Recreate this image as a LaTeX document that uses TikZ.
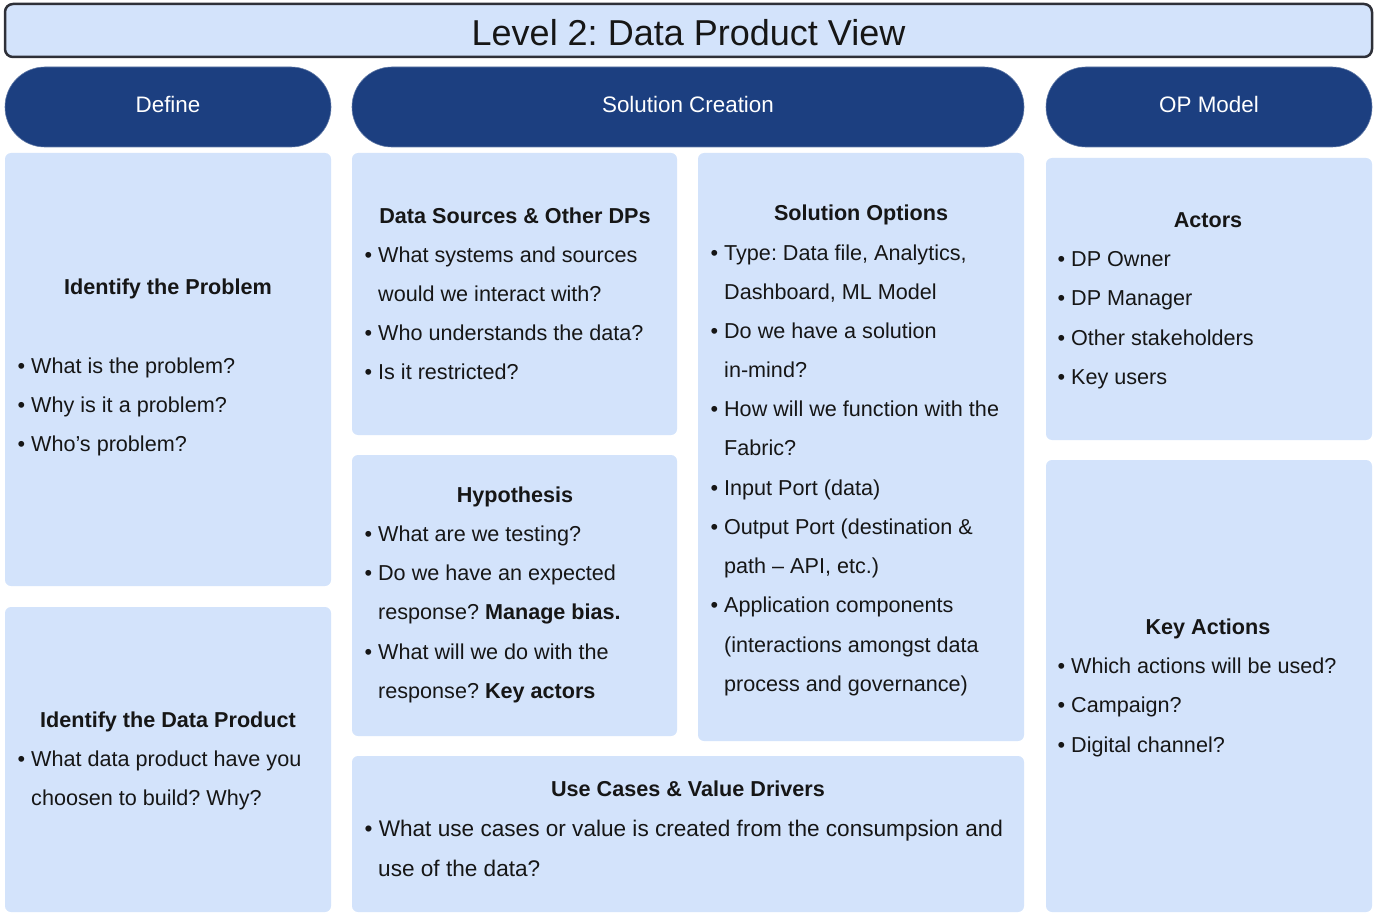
\documentclass[tikz,border=0pt]{standalone}
\usepackage{fontspec}
\setmainfont{Liberation Sans}
\frenchspacing
\definecolor{lightbox}{HTML}{D3E3FB}
\definecolor{darkpill}{HTML}{1C3F80}
\definecolor{txt}{HTML}{161616}
\definecolor{frame}{HTML}{2E3038}
\begin{document}
\begin{tikzpicture}[x=1pt,y=-1pt,
  card/.style={fill=lightbox, rounded corners=6pt},
  pill/.style={fill=darkpill, draw=darkpill!70!white, line width=0.6pt, rounded corners=40pt},
  pilltext/.style={anchor=base, text=white, font=\fontsize{22.4}{27}\selectfont\frenchspacing, inner sep=0pt},
  head/.style={anchor=base, text=txt, font=\fontsize{21.6}{26}\selectfont\bfseries\frenchspacing, inner sep=0pt},
  ln/.style={anchor=base west, text=txt, font=\fontsize{21.6}{26}\selectfont\frenchspacing, inner sep=0pt},
  wideln/.style={ln, font=\fontsize{22.6}{27}\selectfont\frenchspacing}]
\useasboundingbox (0,0) rectangle (1378,920);
% title
\draw[fill=lightbox, draw=frame, line width=2.5pt, rounded corners=8pt] (5,4) rectangle (1372,57);
\node[anchor=base, text=txt, font=\fontsize{36}{40}\selectfont\frenchspacing, inner sep=0pt] (title) at (688.5,46) {Level 2: Data Product View};
% pills
\fill[pill] (5,67) rectangle (331,147);
\fill[pill] (352,67) rectangle (1024,147);
\fill[pill] (1046,67) rectangle (1372,147);
\node[pilltext] (pdef) at (168,112.5) {Define};
\node[pilltext] (psol) at (688,112.5) {Solution Creation};
\node[pilltext] (pop) at (1209,112.5) {OP Model};
% cards
\fill[card] (5,153) rectangle (331,586);
\fill[card] (5,607) rectangle (331,912);
\fill[card] (352,153) rectangle (677,435);
\fill[card] (352,455) rectangle (677,736);
\fill[card] (698,153) rectangle (1024,741);
\fill[card] (352,756) rectangle (1024,912);
\fill[card] (1046,158) rectangle (1372,440);
\fill[card] (1046,460) rectangle (1372,912);
% Identify the Problem
\node[head] (h1) at (168,294) {Identify the Problem};
\node[ln] (a1) at (17.4,373) {• What is the problem?};
\node[ln] (a2) at (17.4,412) {• Why is it a problem?};
\node[ln] (a3) at (17.4,451) {• Who’s problem?};
% Identify the Data Product
\node[head] (h2) at (168,727) {Identify the Data Product};
\node[ln] (b1) at (17.4,766) {• What data product have you};
\node[ln] (b2) at (31,805) {choosen to build? Why?};
% Data Sources
\node[head] (h3) at (515,223) {Data Sources \& Other DPs};
\node[ln] (c1) at (364.4,262) {• What systems and sources};
\node[ln] (c2) at (378,301) {would we interact with?};
\node[ln] (c3) at (364.4,340) {• Who understands the data?};
\node[ln] (c4) at (364.4,379) {• Is it restricted?};
% Hypothesis
\node[head] (h4) at (515,502) {Hypothesis};
\node[ln] (d1) at (364.4,541) {• What are we testing?};
\node[ln] (d2) at (364.4,580) {• Do we have an expected};
\node[ln] (d3) at (378,619) {response? \textbf{Manage bias.}};
\node[ln] (d4) at (364.4,659) {• What will we do with the};
\node[ln] (d5) at (378,698) {response? \textbf{Key actors}};
% Solution Options
\node[head] (h5) at (861,220) {Solution Options};
\node[ln] (e1) at (710.4,260) {• Type: Data file, Analytics,};
\node[ln] (e2) at (724,299) {Dashboard, ML Model};
\node[ln] (e3) at (710.4,338) {• Do we have a solution};
\node[ln] (e4) at (724,377) {in-mind?};
\node[ln] (e5) at (710.4,416) {• How will we function with the};
\node[ln] (e6) at (724,455) {Fabric?};
\node[ln] (e7) at (710.4,495) {• Input Port (data)};
\node[ln] (e8) at (710.4,534) {• Output Port (destination \&};
\node[ln] (e9) at (724,573) {path – API, etc.)};
\node[ln] (e10) at (710.4,612) {• Application components};
\node[ln] (e11) at (724,652) {(interactions amongst data};
\node[ln] (e12) at (724,691) {process and governance)};
% Use Cases
\node[head] (h6) at (688,796) {Use Cases \& Value Drivers};
\node[wideln] (f1) at (364.4,836) {• What use cases or value is created from the consumpsion and};
\node[wideln] (f2) at (378,876) {use of the data?};
% Actors
\node[head] (h7) at (1208,227) {Actors};
\node[ln] (g1) at (1057.4,266) {• DP Owner};
\node[ln] (g2) at (1057.4,305) {• DP Manager};
\node[ln] (g3) at (1057.4,345) {• Other stakeholders};
\node[ln] (g4) at (1057.4,384) {• Key users};
% Key Actions
\node[head] (h8) at (1208,634) {Key Actions};
\node[ln] (k1) at (1057.4,673) {• Which actions will be used?};
\node[ln] (k2) at (1057.4,712) {• Campaign?};
\node[ln] (k3) at (1057.4,752) {• Digital channel?};
\end{tikzpicture}
\end{document}
